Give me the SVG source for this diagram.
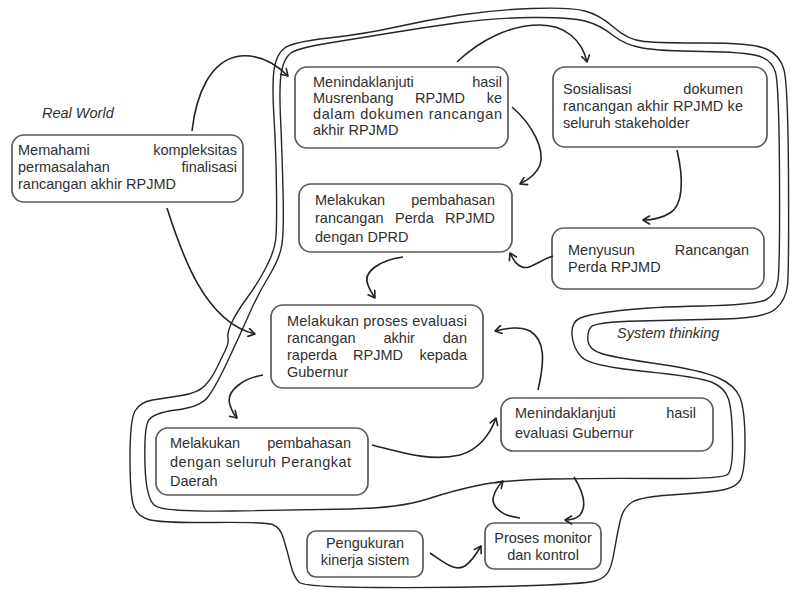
<svg xmlns="http://www.w3.org/2000/svg" width="790" height="590" viewBox="0 0 790 590">
  <style>
    .box { fill: #ffffff; stroke: #5a5a5a; stroke-width: 1.7; }
    .t { font-family: "Liberation Sans", Arial, sans-serif; font-size: 14.5px; fill: #303030; }
    .e { text-anchor: end; }
    .c { text-anchor: middle; }
    .lbl { font-family: "Liberation Sans", Arial, sans-serif; font-size: 14.5px; font-style: italic; fill: #303030; }
    .contour { fill: none; stroke: #262626; stroke-width: 1.4; stroke-linejoin: round; }
    .arrow { fill: none; stroke: #222222; stroke-width: 1.6; marker-end: url(#head); }
  </style>
  <defs>
    <marker id="head" markerUnits="userSpaceOnUse" markerWidth="10" markerHeight="10" viewBox="0 0 10 10" refX="8" refY="5" orient="auto">
      <path d="M1.5,1 L8,5 L1.5,9" fill="none" stroke="#222222" stroke-width="1.6" stroke-linecap="round" stroke-linejoin="round"/>
    </marker>
  </defs>
  <rect width="790" height="590" fill="#ffffff"/>

  <!-- double boundary of the system-thinking area -->
  <g id="boundary">
    <path class="contour" d="M283,190 Q282,150 280.5,117.5 Q279,85 281.5,71.5 Q284,58 291,53 Q298,48 329,43 Q360,38 393.5,32.5 Q427,27 460,22.5 Q493,18 531.5,17.5 Q570,17 585,21 Q600,25 612.5,35 Q625,45 642.5,48 Q660,51 702.5,51.5 Q745,52 758.5,56 Q772,60 775.5,72.5 Q779,85 779.5,175 Q780,265 778,280 Q776,295 765.5,300 Q755,305 702.5,306 Q650,307 620,310.5 Q590,314 580.5,318 Q571,322 572,335 Q573,348 581.5,357 Q590,366 645,371.5 Q700,377 712.5,382.5 Q725,388 728.5,399 Q732,410 732.5,440 Q733,470 727.5,474.5 Q722,479 661,478.5 Q600,478 552.5,479 Q505,480 480,485 Q455,490 427.5,499 Q400,508 350,509 Q300,510 232.5,511 Q165,512 155.5,506 Q146,500 145,465 Q144,430 148,421.5 Q152,413 176,410 Q200,407 207.5,397.5 Q215,388 227.5,361.5 Q240,335 249,314.5 Q258,294 269,276 Q280,258 282,244 Q284,230 283,190 Z"/>
    <path class="contour" d="M276.5,190 Q276,150 274,117.5 Q272,85 274,70 Q276,55 284,48.5 Q292,42 328.5,38 Q365,34 396,27 Q427,20 460,15 Q493,10 531.5,8.5 Q570,7 585,11 Q600,15 614,27.5 Q628,40 644,41.5 Q660,43 706.5,43 Q753,43 766.5,49 Q780,55 784,70 Q788,85 788.5,177.5 Q789,270 787.5,285 Q786,300 775.5,309 Q765,318 724,319 Q683,320 639,321 Q595,322 591,327 Q587,332 588,341 Q589,350 603,354 Q617,358 658.5,364 Q700,370 717.5,377.5 Q735,385 740,397.5 Q745,410 745,442.5 Q745,475 739,482 Q733,489 716.5,491 Q700,493 670,495 Q640,497 631.5,502.5 Q623,508 620,521.5 Q617,535 614.5,550 Q612,565 608.5,571.5 Q605,578 595,581 Q585,584 517.5,586 Q450,588 377.5,587.5 Q305,587 299.5,582.5 Q294,578 290.5,564 Q287,550 283.5,538.5 Q280,527 272.5,524.5 Q265,522 212.5,522.5 Q160,523 148.5,519.5 Q137,516 133.5,505.5 Q130,495 130,457.5 Q130,420 135,411 Q140,402 152.5,400 Q165,398 181.5,395.5 Q198,393 205,385.5 Q212,378 217,367.5 Q222,357 225.5,350 Q229,343 228,338 Q227,333 231.5,323 Q236,313 247,298 Q258,283 266,267.5 Q274,252 275.5,241 Q277,230 276.5,190 Z"/>
  </g>

  <text class="lbl" x="42" y="118">Real World</text>
  <text class="lbl" x="617" y="338">System thinking</text>

  <g id="n-memahami">
    <rect class="box" x="12" y="135" width="231" height="67" rx="12"/>
    <text class="t" x="18" y="155">Memahami</text>
    <text class="t e" x="237" y="155">kompleksitas</text>
    <text class="t" x="18" y="172">permasalahan</text>
    <text class="t e" x="237" y="172">finalisasi</text>
    <text class="t" x="18" y="189">rancangan akhir RPJMD</text>
  </g>

  <g id="n-musrenbang">
    <rect class="box" x="295" y="67" width="213" height="81" rx="12"/>
    <text class="t" x="313" y="87">Menindaklanjuti</text>
    <text class="t e" x="502" y="87">hasil</text>
    <text class="t" x="313" y="103">Musrenbang</text>
    <text class="t" x="415" y="103">RPJMD</text>
    <text class="t e" x="502" y="103">ke</text>
    <text class="t" x="313" y="119" textLength="189" lengthAdjust="spacing">dalam dokumen rancangan</text>
    <text class="t" x="313" y="135">akhir RPJMD</text>
  </g>

  <g id="n-sosialisasi">
    <rect class="box" x="553" y="67" width="214" height="80" rx="12"/>
    <text class="t" x="563" y="94">Sosialisasi</text>
    <text class="t e" x="743" y="94">dokumen</text>
    <text class="t" x="563" y="111" textLength="180" lengthAdjust="spacing">rancangan akhir RPJMD ke</text>
    <text class="t" x="563" y="128">seluruh stakeholder</text>
  </g>

  <g id="n-menyusun">
    <rect class="box" x="552" y="228" width="212" height="61" rx="12"/>
    <text class="t" x="568" y="255">Menyusun</text>
    <text class="t e" x="749" y="255">Rancangan</text>
    <text class="t" x="568" y="272">Perda RPJMD</text>
  </g>

  <g id="n-dprd">
    <rect class="box" x="299" y="184" width="213" height="68" rx="12"/>
    <text class="t" x="315" y="205">Melakukan</text>
    <text class="t e" x="495" y="205">pembahasan</text>
    <text class="t" x="315" y="223">rancangan</text>
    <text class="t" x="395" y="223">Perda</text>
    <text class="t e" x="495" y="223">RPJMD</text>
    <text class="t" x="315" y="242">dengan DPRD</text>
  </g>

  <g id="n-evaluasi">
    <rect class="box" x="271" y="305" width="212" height="83" rx="12"/>
    <text class="t" x="287" y="326" textLength="180" lengthAdjust="spacing">Melakukan proses evaluasi</text>
    <text class="t" x="287" y="343">rancangan</text>
    <text class="t" x="383.5" y="343">akhir</text>
    <text class="t e" x="467" y="343">dan</text>
    <text class="t" x="287" y="360">raperda</text>
    <text class="t" x="353" y="360">RPJMD</text>
    <text class="t e" x="467" y="360">kepada</text>
    <text class="t" x="287" y="377">Gubernur</text>
  </g>

  <g id="n-perangkat">
    <rect class="box" x="156" y="428" width="212" height="67" rx="12"/>
    <text class="t" x="170" y="448">Melakukan</text>
    <text class="t e" x="351" y="448">pembahasan</text>
    <text class="t" x="170" y="467" textLength="181" lengthAdjust="spacing">dengan seluruh Perangkat</text>
    <text class="t" x="170" y="486">Daerah</text>
  </g>

  <g id="n-gubernur">
    <rect class="box" x="501" y="398" width="212" height="53" rx="12"/>
    <text class="t" x="515" y="418">Menindaklanjuti</text>
    <text class="t e" x="696" y="418">hasil</text>
    <text class="t" x="515" y="438">evaluasi Gubernur</text>
  </g>

  <g id="n-pengukuran">
    <rect class="box" x="307" y="531" width="116" height="46" rx="9"/>
    <text class="t c" x="365" y="548">Pengukuran</text>
    <text class="t c" x="365" y="565">kinerja sistem</text>
  </g>

  <g id="n-monitor">
    <rect class="box" x="485" y="523" width="116" height="46" rx="9"/>
    <text class="t c" x="543" y="543">Proses monitor</text>
    <text class="t c" x="543" y="560">dan kontrol</text>
  </g>

  <g id="connectors">
    <path class="arrow" d="M192,131 C196,95 210,60 240,56 C262,54 278,66 288,76"/>
    <path class="arrow" d="M167,208 C182,255 205,322 255,334"/>
    <path class="arrow" d="M457,62 C480,40 510,25 540,25 C565,25 582,40 587,62"/>
    <path class="arrow" d="M512,107 C533,125 545,150 540,165 C536,175 528,180 520,184"/>
    <path class="arrow" d="M677,150 C684,180 683,205 670,213 C662,218 652,220 643,220"/>
    <path class="arrow" d="M553,256 C540,260 530,270 522,267 C516,265 513,259 510,253"/>
    <path class="arrow" d="M403,257 C380,260 362,272 368,285 C370,291 373,295 375,298"/>
    <path class="arrow" d="M538,390 C545,360 545,340 530,331 C520,326 508,328 495,331"/>
    <path class="arrow" d="M263,375 C245,378 225,390 230,405 C232,411 234,415 237,418"/>
    <path class="arrow" d="M372,445 C400,452 430,462 460,455 C478,450 490,435 496,418"/>
    <path class="arrow" d="M430,553 C445,563 455,572 465,566 C472,561 477,553 481,546"/>
    <path class="arrow" d="M520,518 C500,516 490,505 494,495 C496,489 499,485 503,481"/>
    <path class="arrow" d="M574,477 C582,490 588,505 580,515 C576,519 571,520 565,520"/>
  </g>
</svg>
